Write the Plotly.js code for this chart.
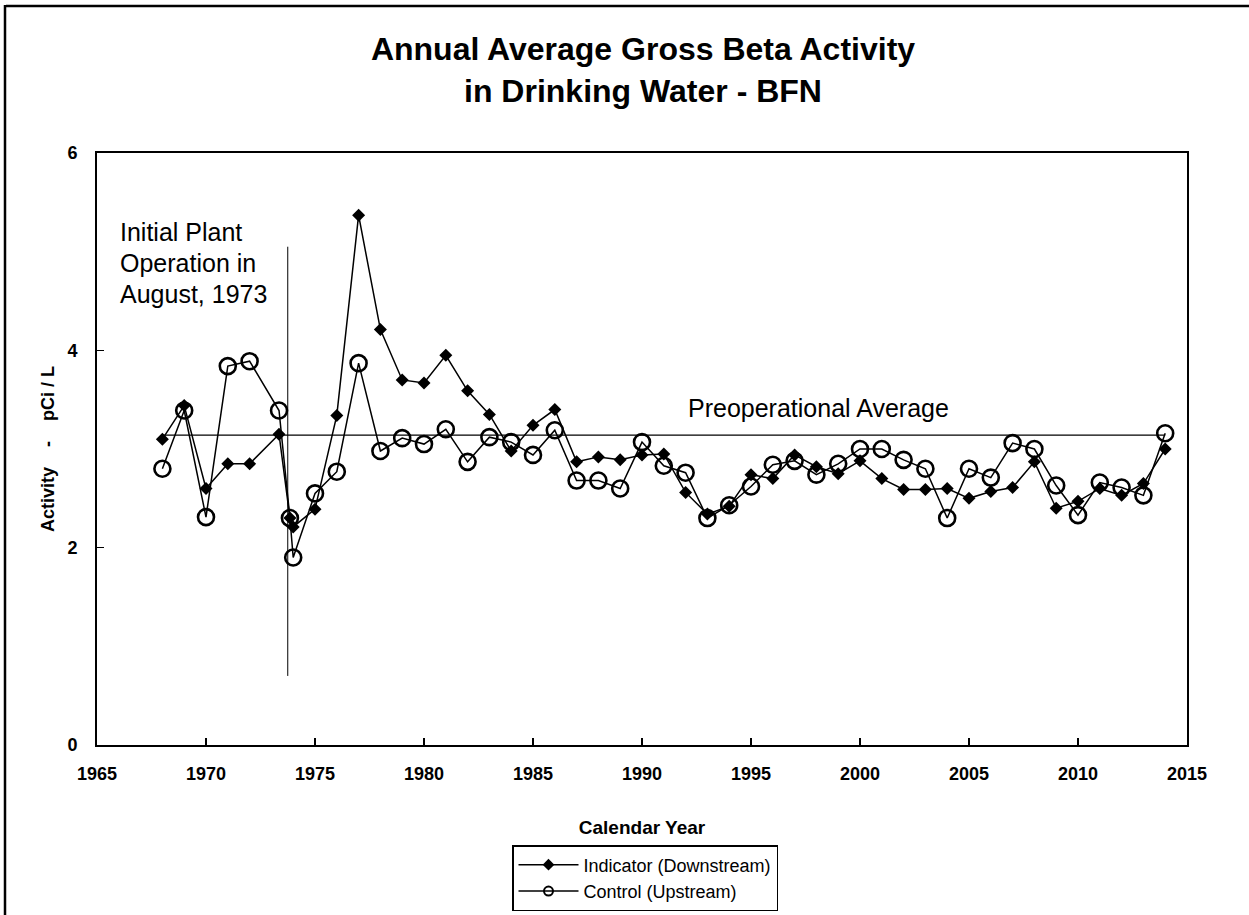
<!DOCTYPE html>
<html>
<head>
<meta charset="utf-8">
<script src="https://cdn.plot.ly/plotly-3.0.1.min.js"></script>
<style>
  html, body { margin: 0; padding: 0; background: #fff; }
  #chart { width: 1249px; height: 915px; }
</style>
</head>
<body>
<div id="chart"></div>
<script>
// ---- Data ----
const indicatorYears = [1968, 1969, 1970, 1971, 1972, 1973.35, 1973.85, 1974, 1975, 1976, 1977, 1978, 1979,
  1980, 1981, 1982, 1983, 1984, 1985, 1986, 1987, 1988, 1989, 1990, 1991, 1992, 1993, 1994, 1995, 1996,
  1997, 1998, 1999, 2000, 2001, 2002, 2003, 2004, 2005, 2006, 2007, 2008, 2009, 2010, 2011, 2012, 2013, 2014];
const indicatorValues = [3.10, 3.44, 2.60, 2.85, 2.85, 3.15, 2.30, 2.21, 2.39, 3.34, 5.37, 4.21, 3.70,
  3.67, 3.95, 3.59, 3.35, 2.98, 3.24, 3.40, 2.87, 2.92, 2.89, 2.94, 2.95, 2.56, 2.34, 2.42, 2.74, 2.70,
  2.94, 2.82, 2.75, 2.88, 2.70, 2.59, 2.59, 2.60, 2.50, 2.57, 2.61, 2.87, 2.40, 2.47, 2.60, 2.53, 2.65, 3.00];

const controlYears = indicatorYears;
const controlValues = [2.80, 3.39, 2.31, 3.84, 3.89, 3.39, 2.30, 1.90, 2.55, 2.77, 3.87, 2.98, 3.11,
  3.05, 3.20, 2.87, 3.12, 3.07, 2.94, 3.19, 2.68, 2.68, 2.60, 3.07, 2.83, 2.76, 2.30, 2.43, 2.62, 2.84,
  2.88, 2.74, 2.85, 3.00, 3.00, 2.89, 2.80, 2.30, 2.80, 2.71, 3.06, 3.00, 2.63, 2.33, 2.66, 2.61, 2.53, 3.16];

const preopYears = [1968, 2014];
const preopValues = [3.14, 3.14];

const plantStartYear = 1973.75;
const plantLineRange = [0.7, 5.05];

const seriesNames = ["Indicator (Downstream)", "Control (Upstream)"];
const xTicks = [1965, 1970, 1975, 1980, 1985, 1990, 1995, 2000, 2005, 2010, 2015];
const yTicks = [0, 2, 4, 6];

// ---- Chart ----
const FONT = "Liberation Sans, Arial, Helvetica, sans-serif";

const indicatorMarker = { symbol: "diamond", size: 10, color: "#000" };
const controlMarker = { symbol: "circle-open", size: 16, color: "#000", line: { width: 2.6, color: "#000" } };

const traces = [
  {
    x: preopYears, y: preopValues, mode: "lines", type: "scatter",
    line: { color: "#000", width: 1.3 }, showlegend: false, hoverinfo: "skip"
  },
  {
    x: indicatorYears, y: indicatorValues, name: seriesNames[0], legendgroup: "ind",
    mode: "lines+markers", type: "scatter", showlegend: false,
    line: { color: "#000", width: 1.5 }, marker: indicatorMarker
  },
  {
    x: controlYears, y: controlValues, name: seriesNames[1], legendgroup: "ctl",
    mode: "lines+markers", type: "scatter", showlegend: false,
    line: { color: "#000", width: 1.5 }, marker: controlMarker
  },
  // legend entries (smaller legend symbols, as in the reference key)
  {
    x: [null], y: [null], name: seriesNames[0], legendgroup: "ind",
    mode: "lines+markers", type: "scatter",
    line: { color: "#000", width: 1.5 }, marker: { symbol: "diamond", size: 9, color: "#000" }
  },
  {
    x: [null], y: [null], name: seriesNames[1], legendgroup: "ctl",
    mode: "lines+markers", type: "scatter",
    line: { color: "#000", width: 1.5 }, marker: { symbol: "circle-open", size: 9, color: "#000", line: { width: 2, color: "#000" } }
  }
];

const plotW = 1090, plotH = 592, mL = 97, mT = 153;
function px2paperX(px) { return (px - mL) / plotW; }
function px2paperY(py) { return (mT + plotH - py) / plotH; }

const layout = {
  width: 1249, height: 915,
  margin: { l: mL, r: 1249 - mL - plotW, t: mT, b: 915 - mT - plotH, autoexpand: false },
  paper_bgcolor: "#fff", plot_bgcolor: "#fff",
  font: { family: FONT, color: "#000" },
  title: {
    text: "Annual Average Gross Beta Activity<br>in Drinking Water - BFN",
    font: { family: FONT, size: 32, weight: 700, color: "#000" },
    x: 643 / 1249, xanchor: "center",
    xref: "container", yref: "container", y: 1 - 60 / 915, yanchor: "top"
  },
  xaxis: {
    range: [1965, 2015], tickvals: xTicks, ticktext: xTicks.map(String),
    ticks: "inside", ticklen: 7, tickwidth: 1.5, tickcolor: "#000",
    showline: true, linewidth: 2, linecolor: "#000", mirror: true,
    showgrid: false, zeroline: false, automargin: false,
    tickfont: { family: FONT, size: 18, weight: 700 },
    ticklabelstandoff: 11,
    title: { text: "Calendar Year", font: { family: FONT, size: 19, weight: 700 }, standoff: 38 }
  },
  yaxis: {
    range: [0, 6], tickvals: yTicks, ticktext: yTicks.map(String),
    ticks: "inside", ticklen: 7, tickwidth: 1.5, tickcolor: "#000",
    showline: true, linewidth: 2, linecolor: "#000", mirror: true,
    showgrid: false, zeroline: false, automargin: false,
    tickfont: { family: FONT, size: 18, weight: 700 },
    ticklabelstandoff: 14,
    title: { text: "Activity\u00a0\u00a0\u00a0\u00a0-\u00a0\u00a0\u00a0\u00a0pCi / L", font: { family: FONT, size: 18, weight: 700 }, standoff: 8 }
  },
  legend: {
    x: px2paperX(645), xanchor: "center", y: px2paperY(845), yanchor: "top",
    bordercolor: "#000", borderwidth: 1.5, bgcolor: "#fff",
    font: { family: FONT, size: 18, color: "#000" },
    itemsizing: "trace", tracegroupgap: 0, itemwidth: 60
  },
  shapes: [
    { type: "line", xref: "x", yref: "y", x0: plantStartYear, x1: plantStartYear,
      y0: plantLineRange[0], y1: plantLineRange[1], line: { color: "#000", width: 1 } },
    { type: "line", xref: "paper", yref: "paper", x0: px2paperX(6), x1: px2paperX(1249),
      y0: px2paperY(6), y1: px2paperY(6), line: { color: "#000", width: 2.5 } },
    { type: "line", xref: "paper", yref: "paper", x0: px2paperX(5), x1: px2paperX(5),
      y0: px2paperY(5), y1: px2paperY(915), line: { color: "#000", width: 2.5 } }
  ],
  annotations: [
    { text: "Initial Plant", x: 1965.95, y: 5.20, xref: "x", yref: "y", xanchor: "left", yanchor: "middle",
      showarrow: false, font: { family: FONT, size: 25 } },
    { text: "Operation in", x: 1965.95, y: 4.885, xref: "x", yref: "y", xanchor: "left", yanchor: "middle",
      showarrow: false, font: { family: FONT, size: 25 } },
    { text: "August, 1973", x: 1965.95, y: 4.57, xref: "x", yref: "y", xanchor: "left", yanchor: "middle",
      showarrow: false, font: { family: FONT, size: 25 } },
    { text: "Preoperational Average", x: 1992.0, y: 3.42, xref: "x", yref: "y", xanchor: "left", yanchor: "middle",
      showarrow: false, font: { family: FONT, size: 25 } }
  ],
  showlegend: true
};

Plotly.newPlot("chart", traces, layout, { staticPlot: true, displayModeBar: false });
</script>
</body>
</html>
